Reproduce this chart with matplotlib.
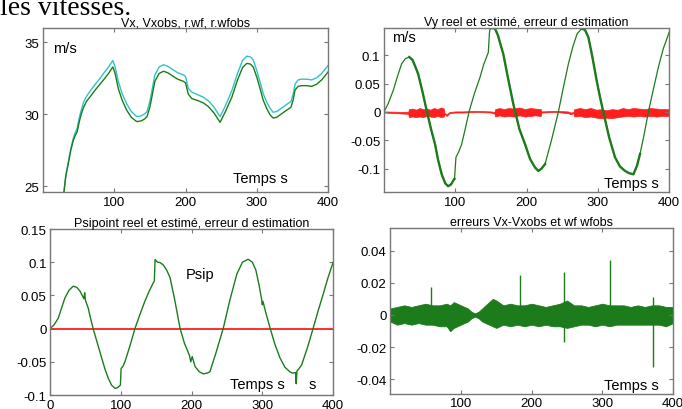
import numpy as np
from matplotlib import pyplot as plt

plt.rcParams['font.family'] = ['Liberation Sans', 'DejaVu Sans']
plt.rcParams['axes.unicode_minus'] = False

# --- Vx, Vxobs (haut gauche) ---
t_vx = [29.5, 32, 35.6, 39, 42.6, 45, 48, 51, 54, 57, 61, 68, 75, 80, 85, 92, 98, 101, 105.7, 111,
        117.4, 124, 131.5, 138, 143, 146, 150, 157, 163, 169, 175, 181, 189, 197, 200, 204, 209, 218,
        225, 232, 240, 248.5, 256, 265, 273, 280, 286, 291, 295, 300, 304.6, 309, 314, 319, 323, 328,
        335, 342, 348, 351, 353.7, 358, 363, 370, 377, 384, 391, 396, 400]
vx = [24.63, 25.7, 26.6, 27.5, 28.2, 28.5, 28.8, 29.5, 30.07, 30.5, 30.9, 31.35, 31.8, 32.1, 32.4,
      32.85, 33.3, 32.9, 31.8, 31.0, 30.3, 29.8, 29.5, 29.55, 29.7, 29.85, 30.5, 32.3, 32.85, 33.0,
      32.9, 32.7, 32.45, 32.3, 32.2, 31.4, 31.1, 30.95, 30.8, 30.55, 30.1, 29.45, 30.2, 31.2, 32.4,
      33.25, 33.55, 33.5, 33.3, 32.6, 31.8, 31.0, 30.4, 29.95, 29.75, 29.8, 30.05, 30.3, 30.5, 31.0,
      31.7, 31.95, 32.0, 32.0, 31.95, 32.1, 32.4, 32.7, 32.95]
rwf = [24.63, 25.75, 26.7, 27.6, 28.35, 28.7, 29.05, 29.8, 30.35, 30.85, 31.25, 31.75, 32.2, 32.5,
       32.85, 33.3, 33.75, 33.35, 32.3, 31.45, 30.75, 30.2, 29.85, 29.9, 30.05, 30.2, 30.9, 32.75,
       33.3, 33.45, 33.35, 33.15, 32.9, 32.75, 32.65, 31.8, 31.55, 31.35, 31.2, 30.95, 30.5, 29.85,
       30.6, 31.65, 32.85, 33.75, 34.05, 34.0, 33.8, 33.05, 32.25, 31.45, 30.85, 30.4, 30.15, 30.2,
       30.45, 30.7, 30.9, 31.4, 32.1, 32.4, 32.45, 32.45, 32.4, 32.55, 32.85, 33.15, 33.4]

# --- Vy reel / estime (haut droite) ---
t_vy = [0, 6, 13, 19, 24.8, 30, 35.5, 40, 44, 48, 54, 60, 66, 71.6, 76, 81, 86, 90, 94, 97.3, 99, 101,
        105, 109, 114, 119.7, 127, 134.7, 140, 146.4, 148, 149, 155.8, 160, 164, 167.4, 174, 181.5,
        190, 198, 205, 212, 216.6, 221, 226, 235, 244.7, 252, 258.8, 265, 271, 277.5, 282, 286.8,
        292, 298.5, 303, 307.8, 316, 324.2, 331, 338.2, 344, 350, 355, 359.3, 365, 371, 378, 385,
        392, 400]
vy = [0, 0.015, 0.038, 0.063, 0.085, 0.094, 0.097, 0.092, 0.08, 0.067, 0.036, 0.002, -0.03, -0.0565,
      -0.085, -0.11, -0.126, -0.131, -0.128, -0.121, -0.118, -0.08, -0.07, -0.057, -0.03, 0.002,
      0.033, 0.061, 0.084, 0.105, 0.14, 0.147, 0.147, 0.135, 0.117, 0.1025, 0.06, 0.014, -0.03,
      -0.057, -0.083, -0.098, -0.104, -0.1, -0.092, -0.05, 0.0, 0.045, 0.085, 0.115, 0.138, 0.147,
      0.145, 0.132, 0.1, 0.055, 0.027, 0.0, -0.045, -0.08, -0.096, -0.104, -0.108, -0.11, -0.095,
      -0.074, -0.04, 0.0, 0.04, 0.079, 0.112, 0.14]
vy_bruit = [(35, 100), (150, 230), (272, 362)]

# erreur d'estimation Vy : enveloppe haute / basse
t_err = [0, 30, 34, 35, 40, 45, 50, 55, 60, 65, 70, 75, 80, 84, 85, 88, 92, 100, 110, 130, 150, 155,
         156, 162, 168, 175, 182, 190, 198, 205, 212, 220, 221, 240, 258, 262, 266, 267, 275, 282,
         290, 298, 305, 312, 320, 328, 335, 342, 350, 358, 366, 374, 382, 390, 400]
err_hi = [0.001, 0.0, 0.0, 0.005, 0.006, 0.004, 0.007, 0.005, 0.006, 0.004, 0.007, 0.005, 0.008,
          0.006, -0.002, -0.004, 0.0, 0.001, 0.001, 0.002, 0.001, 0.0, 0.005, 0.007, 0.005, 0.007,
          0.006, 0.008, 0.005, 0.007, 0.006, 0.005, 0.001, 0.002, 0.001, -0.001, 0.0, 0.005, 0.007,
          0.005, 0.007, 0.004, 0.005, 0.003, 0.005, 0.004, 0.007, 0.005, 0.007, 0.006, 0.005, 0.007,
          0.006, 0.005, 0.005]
err_lo = [-0.001, -0.003, -0.003, -0.009, -0.008, -0.009, -0.008, -0.009, -0.007, -0.008, -0.009,
          -0.007, -0.009, -0.008, -0.004, -0.007, -0.002, -0.001, -0.001, 0.0, -0.001, -0.003, -0.008,
          -0.006, -0.008, -0.007, -0.008, -0.006, -0.008, -0.007, -0.006, -0.007, -0.001, 0.0, -0.002,
          -0.004, -0.002, -0.008, -0.007, -0.009, -0.008, -0.010, -0.011, -0.010, -0.011, -0.009,
          -0.008, -0.007, -0.008, -0.007, -0.008, -0.007, -0.008, -0.007, -0.007]

# --- Psipoint (bas gauche) ---
t_psi = [0, 6, 11.8, 16, 21, 27, 33, 38, 42.4, 48, 49, 50, 54, 57, 61, 67, 73, 78, 82.5, 87, 92, 95,
         97.5, 99.5, 100.5, 103, 106, 113, 120, 127, 134, 140, 146, 147.5, 148.5, 152, 155.5, 160,
         165, 169.6, 176, 183.7, 190, 197, 199, 201, 205, 211, 216.7, 222, 226, 235, 245, 254, 264,
         272, 280, 286, 291, 295, 299, 300, 301, 305, 311, 318, 325, 332, 339, 343, 347, 348, 349,
         352, 355.7, 364, 372, 379, 386, 393, 400]
psi = [0, 0.006, 0.016, 0.03, 0.046, 0.058, 0.064, 0.062, 0.0565, 0.045, 0.054, 0.043, 0.031, 0.017,
       0.0, -0.022, -0.044, -0.062, -0.075, -0.085, -0.09, -0.089, -0.087, -0.085, -0.06, -0.057,
       -0.0495, -0.026, 0.0, 0.021, 0.041, 0.056, 0.069, 0.072, 0.104, 0.1, 0.0995, 0.096, 0.088,
       0.077, 0.045, 0.001, -0.022, -0.04, -0.05, -0.042, -0.057, -0.065, -0.068, -0.067, -0.065,
       -0.035, 0.001, 0.042, 0.082, 0.1, 0.1045, 0.1, 0.088, 0.068, 0.045, 0.036, 0.041, 0.024,
       0.001, -0.024, -0.044, -0.058, -0.065, -0.067, -0.066, -0.083, -0.064, -0.06, -0.0545,
       -0.028, 0.001, 0.027, 0.0515, 0.077, 0.0995]

# --- erreurs Vx-Vxobs (bas droite) ---
t_ex = [0, 10, 20, 30, 40, 50, 60, 70, 80, 85, 90, 100, 110, 115, 120, 125, 130, 140, 145, 150, 160,
        170, 180, 190, 200, 210, 220, 230, 240, 250, 260, 270, 280, 290, 300, 310, 320, 330, 340,
        350, 360, 370, 380, 390, 400]
ex_hi = [0.004, 0.005, 0.006, 0.005, 0.006, 0.007, 0.006, 0.006, 0.007, 0.006, 0.008, 0.006, 0.004,
         0.002, 0.001, 0.002, 0.004, 0.008, 0.010, 0.009, 0.006, 0.007, 0.006, 0.006, 0.007, 0.006,
         0.005, 0.006, 0.007, 0.009, 0.006, 0.006, 0.005, 0.006, 0.007, 0.006, 0.006, 0.006, 0.005,
         0.006, 0.005, 0.006, 0.006, 0.005, 0.005]
ex_lo = [-0.004, -0.006, -0.005, -0.006, -0.005, -0.006, -0.006, -0.007, -0.007, -0.010, -0.008,
         -0.006, -0.004, -0.002, -0.001, -0.002, -0.004, -0.006, -0.007, -0.008, -0.006, -0.007,
         -0.006, -0.007, -0.006, -0.007, -0.006, -0.007, -0.007, -0.008, -0.007, -0.006, -0.006,
         -0.007, -0.006, -0.007, -0.006, -0.006, -0.006, -0.006, -0.006, -0.006, -0.006, -0.007,
         -0.005]
pic_t = [58, 85, 183, 245.5, 311, 372]
pic_hi = [0.0173, 0.0, 0.025, 0.0267, 0.034, 0.011]
pic_lo = [0.0, -0.010, 0.0, -0.017, 0.0, -0.032]

VERT = '#1c7c1c'
ROUGE = '#ff1e1e'
CYAN = '#2ec4c4'
BORD = '#777777'


def style(ax, xt, yt, ylab):
    ax.set_xlim(0, 400)
    ax.set_xticks(xt)
    ax.set_xticklabels([str(v) for v in xt])
    ax.set_yticks(yt)
    ax.set_yticklabels(ylab)
    ax.tick_params(direction='in', length=3, width=0.8, color=BORD, labelsize=9.5,
                   top=True, right=True, pad=2.5)
    for s in ax.spines.values():
        s.set_color(BORD)
        s.set_linewidth(1.0)


fig = plt.figure(figsize=(6.82, 4.10), dpi=100)
fig.text(0.0, 0.9645, 'les vitesses.', family=['Liberation Serif', 'DejaVu Serif'], fontsize=20,
         va='baseline', ha='left')

# haut gauche
ax1 = fig.add_axes([0.063, 0.529, 0.418, 0.400])
ax1.plot(t_vx, rwf, color=CYAN, lw=1.0)
ax1.plot(t_vx, vx, color=VERT, lw=1.0)
ax1.set_ylim(24.6, 36)
style(ax1, [100, 200, 300, 400], [25, 30, 35], ['25', '30', '35'])
ax1.set_title('Vx, Vxobs, r.wf, r.wfobs', fontsize=9, pad=2)
ax1.text(0.036, 0.854, 'm/s', transform=ax1.transAxes, fontsize=10.5, va='baseline')
ax1.text(0.668, 0.059, 'Temps s', transform=ax1.transAxes, fontsize=10.5, va='baseline')

# haut droite
ax2 = fig.add_axes([0.563, 0.529, 0.418, 0.400])
ax2.fill_between(t_err, err_lo, err_hi, color=ROUGE, lw=0.5, edgecolor=ROUGE)
ax2.plot(t_vy, vy, color=VERT, lw=0.9)
tv = np.array(t_vy)
yv = np.array(vy)
for a, b in vy_bruit:
    m = (tv >= a) & (tv <= b)
    ax2.plot(tv[m], yv[m], color=VERT, lw=1.7)
ax2.set_ylim(-0.1414, 0.148)
style(ax2, [100, 200, 300, 400], [-0.1, -0.05, 0, 0.05, 0.1],
      ['-0.1', '-0.05', '0', '0.05', '0.1'])
ax2.set_title('Vy reel et estimé, erreur d estimation', fontsize=9, pad=2)
ax2.text(0.030, 0.922, 'm/s', transform=ax2.transAxes, fontsize=10.5, va='baseline')
ax2.text(0.771, 0.029, 'Temps s', transform=ax2.transAxes, fontsize=10.5, va='baseline')

# bas gauche
ax3 = fig.add_axes([0.0733, 0.034, 0.415, 0.405])
ax3.plot([0, 400], [0, 0], color=ROUGE, lw=1.3)
ax3.plot(t_psi, psi, color=VERT, lw=1.0)
ax3.set_ylim(-0.1, 0.15)
style(ax3, [0, 100, 200, 300, 400], [-0.1, -0.05, 0, 0.05, 0.1, 0.15],
      ['-0.1', '-0.05', '0', '0.05', '0.1', '0.15'])
ax3.set_title('Psipoint reel et estimé, erreur d estimation', fontsize=9, pad=2)
ax3.text(0.48, 0.705, 'Psip', transform=ax3.transAxes, fontsize=10.5, va='baseline')
ax3.text(0.636, 0.042, 'Temps s', transform=ax3.transAxes, fontsize=10.5, va='baseline')
ax3.text(0.913, 0.042, 's', transform=ax3.transAxes, fontsize=10.5, va='baseline')

# bas droite
ax4 = fig.add_axes([0.572, 0.0366, 0.415, 0.405])
ax4.fill_between(t_ex, ex_lo, ex_hi, color=VERT, lw=0.6, edgecolor=VERT)
ax4.vlines(pic_t, pic_lo, pic_hi, color=VERT, lw=1.0)
ax4.set_ylim(-0.049, 0.054)
style(ax4, [100, 200, 300, 400], [-0.04, -0.02, 0, 0.02, 0.04],
      ['-0.04', '-0.02', '0', '0.02', '0.04'])
ax4.set_title('erreurs Vx-Vxobs et wf wfobs', fontsize=9, pad=2)
ax4.text(0.755, 0.030, 'Temps s', transform=ax4.transAxes, fontsize=10.5, va='baseline')

fig.savefig('out.png', dpi=100)
